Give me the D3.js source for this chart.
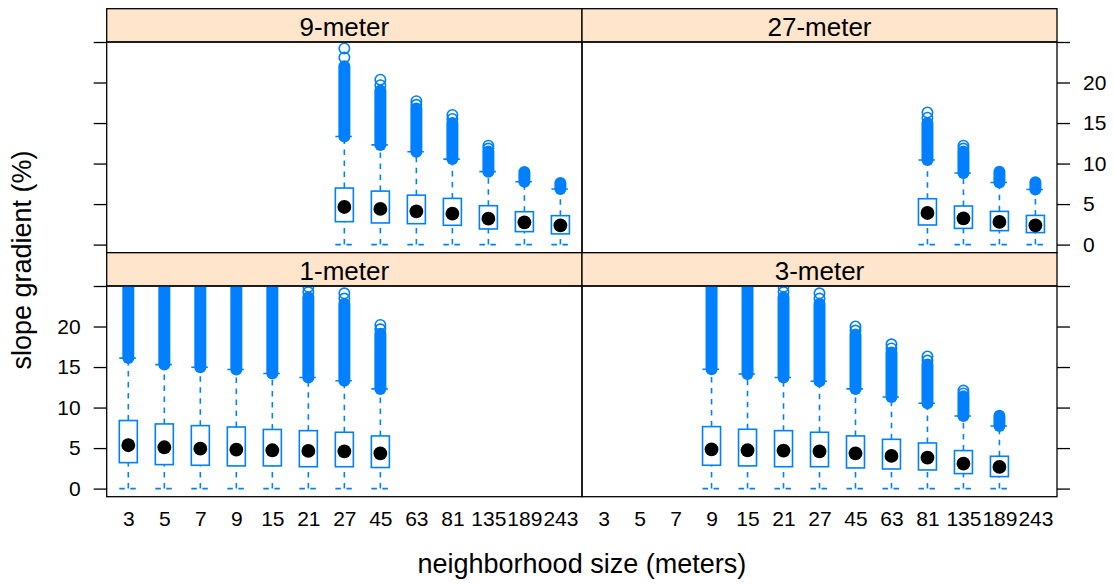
<!DOCTYPE html>
<html>
<head>
<meta charset="utf-8">
<style>
body { margin: 0; background: #fff; }
svg text { font-family: "Liberation Sans", Arial, sans-serif; fill: #000; }
</style>
</head>
<body>
<svg width="1114" height="584"></svg>
<script src="https://cdn.jsdelivr.net/npm/d3@7"></script>
<script>
// neighborhood sizes (x categories)
var sizes = [3, 5, 7, 9, 15, 21, 27, 45, 63, 81, 135, 189, 243];
var yTicks = [0, 5, 10, 15, 20, 25];

// rows: [size, q1, median, q3, upper whisker, top of dense outliers, highest outlier]
var nineMeter = [
  [27, 2.83, 4.64, 6.98, 13.34, 22.0, 24.2],
  [45, 2.67, 4.40, 6.60, 12.3, 19.0, 20.35],
  [63, 2.58, 4.10, 6.10, 11.45, 16.8, 17.7],
  [81, 2.38, 3.82, 5.70, 10.55, 15.0, 16.0],
  [135, 1.93, 3.20, 4.80, 9.0, 11.5, 12.2],
  [189, 1.60, 2.75, 4.06, 7.76, 8.95, 8.95],
  [243, 1.32, 2.38, 3.57, 6.86, 7.6, 7.6]
];
var twentySevenMeter = [
  [81, 2.42, 3.90, 5.66, 10.43, 15.0, 16.3],
  [135, 2.00, 3.24, 4.76, 8.83, 11.5, 12.2],
  [189, 1.72, 2.80, 4.10, 7.67, 9.0, 9.0],
  [243, 1.48, 2.38, 3.60, 6.80, 7.7, 7.7]
];
var oneMeter = [
  [3, 3.20, 5.35, 8.40, 16.1, 26, 26],
  [5, 2.96, 5.10, 7.98, 15.3, 26, 26],
  [7, 2.88, 4.93, 7.77, 14.98, 26, 26],
  [9, 2.80, 4.80, 7.60, 14.7, 26, 26],
  [15, 2.80, 4.73, 7.30, 14.2, 26, 26],
  [21, 2.70, 4.65, 7.15, 13.7, 23.6, 24.9],
  [27, 2.70, 4.60, 6.95, 13.3, 22.8, 24.1],
  [45, 2.60, 4.35, 6.50, 12.3, 19.1, 20.2]
];
var threeMeter = [
  [9, 2.88, 4.85, 7.65, 14.73, 26, 26],
  [15, 2.80, 4.73, 7.32, 14.15, 26, 26],
  [21, 2.70, 4.69, 7.15, 13.7, 23.6, 24.9],
  [27, 2.70, 4.60, 6.95, 13.25, 22.8, 24.1],
  [45, 2.55, 4.35, 6.50, 12.3, 19.0, 20.0],
  [63, 2.42, 4.03, 6.08, 11.3, 16.8, 17.8],
  [81, 2.30, 3.83, 5.63, 10.53, 15.3, 16.3],
  [135, 1.85, 3.08, 4.69, 8.96, 11.4, 12.1],
  [189, 1.48, 2.67, 3.99, 7.73, 9.0, 9.0]
];

var panels = [
  {name: "9-meter", data: nineMeter, col: 0, row: 0},
  {name: "27-meter", data: twentySevenMeter, col: 1, row: 0},
  {name: "1-meter", data: oneMeter, col: 0, row: 1},
  {name: "3-meter", data: threeMeter, col: 1, row: 1}
];

var blue = "#0080ff",
    stripFill = "#ffe5cc";

var svg = d3.select("svg");
var colX = [106.7, 582, 1057],
    rowTop = [8.7, 252.7],
    stripH = 33.3,
    plotH = 210.7;

panels.forEach(function(p, pi) {
  var x0 = colX[p.col], x1 = colX[p.col + 1];
  var top = rowTop[p.row] + stripH, bottom = top + plotH;

  var x = d3.scaleLinear().domain([0.4, sizes.length + 0.6]).range([x0, x1]);
  var y = d3.scaleLinear().domain([-1, 25]).range([bottom, top]);
  var pos = function(s) { return x(sizes.indexOf(s) + 1); };
  var hw = x(1.25) - x(1);

  var g = svg.append("g");

  // strip
  g.append("rect")
      .attr("x", x0).attr("y", rowTop[p.row])
      .attr("width", x1 - x0).attr("height", stripH)
      .attr("fill", stripFill).attr("stroke", "#000").attr("stroke-width", 1.3);
  g.append("text")
      .attr("x", (x0 + x1) / 2).attr("y", rowTop[p.row] + 27)
      .attr("text-anchor", "middle").attr("font-size", 26)
      .text(p.name);

  g.append("clipPath").attr("id", "clip" + pi)
    .append("rect").attr("x", x0).attr("y", top).attr("width", x1 - x0).attr("height", plotH);

  var marks = g.append("g").attr("clip-path", "url(#clip" + pi + ")");
  var bx = marks.selectAll("g.box").data(p.data).enter().append("g").attr("class", "box");

  // whiskers
  bx.append("line")
      .attr("x1", function(d) { return pos(d[0]); }).attr("x2", function(d) { return pos(d[0]); })
      .attr("y1", y(0)).attr("y2", function(d) { return y(d[1]); });
  bx.append("line")
      .attr("x1", function(d) { return pos(d[0]); }).attr("x2", function(d) { return pos(d[0]); })
      .attr("y1", function(d) { return y(d[3]); }).attr("y2", function(d) { return y(d[4]); });
  bx.append("line")
      .attr("x1", function(d) { return pos(d[0]) - hw; }).attr("x2", function(d) { return pos(d[0]) + hw; })
      .attr("y1", y(0)).attr("y2", y(0));
  bx.append("line")
      .attr("x1", function(d) { return pos(d[0]) - hw; }).attr("x2", function(d) { return pos(d[0]) + hw; })
      .attr("y1", function(d) { return y(d[4]); }).attr("y2", function(d) { return y(d[4]); });
  bx.selectAll("line")
      .attr("stroke", blue).attr("stroke-width", 1.6).attr("stroke-dasharray", "5.5,5.5");

  // box
  bx.append("rect")
      .attr("x", function(d) { return pos(d[0]) - hw; })
      .attr("y", function(d) { return y(d[3]); })
      .attr("width", 2 * hw)
      .attr("height", function(d) { return y(d[1]) - y(d[3]); })
      .attr("fill", "none").attr("stroke", blue).attr("stroke-width", 1.6);

  // outliers: dense run of open circles drawn as one capsule, plus the highest rings
  var r = 5.2;
  bx.append("rect")
      .attr("x", function(d) { return pos(d[0]) - r - 0.8; })
      .attr("y", function(d) { return y(d[5]) - r - 0.8; })
      .attr("width", 2 * r + 1.6)
      .attr("height", function(d) { return y(d[4]) - y(d[5]) + 2 * r + 1.6; })
      .attr("rx", r + 0.8)
      .attr("fill", blue);
  bx.filter(function(d) { return d[6] > d[5]; }).append("circle")
      .attr("cx", function(d) { return pos(d[0]); })
      .attr("cy", function(d) { return y(d[6]); })
      .attr("r", r)
      .attr("fill", "none").attr("stroke", blue).attr("stroke-width", 1.6);
  bx.filter(function(d) { return d[6] > d[5]; }).append("circle")
      .attr("cx", function(d) { return pos(d[0]); })
      .attr("cy", function(d) { return y((d[5] + d[6]) / 2); })
      .attr("r", r)
      .attr("fill", "none").attr("stroke", blue).attr("stroke-width", 1.6);

  // median dot
  bx.append("circle")
      .attr("cx", function(d) { return pos(d[0]); })
      .attr("cy", function(d) { return y(d[2]); })
      .attr("r", 6.9)
      .attr("fill", "#000");

  // panel border
  g.append("rect")
      .attr("x", x0).attr("y", top).attr("width", x1 - x0).attr("height", plotH)
      .attr("fill", "none").attr("stroke", "#000").attr("stroke-width", 1.3);

  // y axes: ticks on the outer side of each row, labels alternate
  if (p.col === 0) {
    var ax = g.append("g").attr("transform", "translate(" + x0 + ",0)")
        .call(d3.axisLeft(y).tickValues(yTicks).tickSize(13).tickPadding(13)
          .tickFormat(function(v) { return (p.row === 1 && v < 25) ? v : ""; }));
    ax.select(".domain").remove();
    ax.selectAll("line").attr("stroke", "#000").attr("stroke-width", 1.3);
    ax.selectAll("text").attr("font-size", 21).attr("font-family", null).attr("fill", "#000");
  } else {
    var ax2 = g.append("g").attr("transform", "translate(" + x1 + ",0)")
        .call(d3.axisRight(y).tickValues(yTicks).tickSize(13).tickPadding(13)
          .tickFormat(function(v) { return (p.row === 0 && v < 25) ? v : ""; }));
    ax2.select(".domain").remove();
    ax2.selectAll("line").attr("stroke", "#000").attr("stroke-width", 1.3);
    ax2.selectAll("text").attr("font-size", 21).attr("font-family", null).attr("fill", "#000");
  }

  // x axis labels on bottom row
  if (p.row === 1) {
    var xa = g.append("g").attr("transform", "translate(0," + bottom + ")")
        .call(d3.axisBottom(x).tickValues(d3.range(1, sizes.length + 1)).tickSize(0).tickPadding(14)
          .tickFormat(function(i) { return sizes[i - 1]; }));
    xa.select(".domain").remove();
    xa.selectAll("text").attr("font-size", 21).attr("font-family", null).attr("fill", "#000");
  }
});

svg.append("text")
    .attr("x", (colX[0] + colX[2]) / 2).attr("y", 573)
    .attr("text-anchor", "middle").attr("font-size", 27)
    .text("neighborhood size (meters)");

svg.append("text")
    .attr("transform", "translate(31,260) rotate(-90)")
    .attr("text-anchor", "middle").attr("font-size", 27)
    .text("slope gradient (%)");
</script>
</body>
</html>
